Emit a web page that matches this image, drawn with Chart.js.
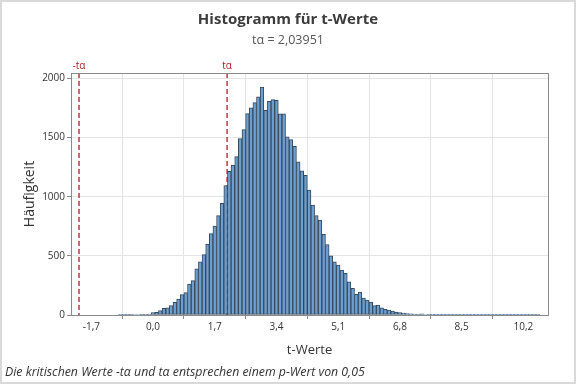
<!DOCTYPE html>
<html><head><meta charset="utf-8">
<script src="https://cdn.jsdelivr.net/npm/chart.js@4.4.1/dist/chart.umd.min.js"></script>
<style>html,body{margin:0;padding:0;background:#fff;}#wrap{width:576px;height:384px;}</style>
</head><body><div id="wrap"><canvas id="c" width="576" height="384"></canvas></div>
<script>
const binMidpoints = [-0.9,-0.8,-0.7,-0.6,-0.5,-0.4,-0.3,-0.2,-0.1,
 0.0,0.1,0.2,0.3,0.4,0.5,0.6,0.7,0.8,0.9,
 1.0,1.1,1.2,1.3,1.4,1.5,1.6,1.7,1.8,1.9,
 2.0,2.1,2.2,2.3,2.4,2.5,2.6,2.7,2.8,2.9,
 3.0,3.1,3.2,3.3,3.4,3.5,3.6,3.7,3.8,3.9,
 4.0,4.1,4.2,4.3,4.4,4.5,4.6,4.7,4.8,4.9,
 5.0,5.1,5.2,5.3,5.4,5.5,5.6,5.7,5.8,5.9,
 6.0,6.1,6.2,6.3,6.4,6.5,6.6,6.7,6.8,6.9,
 7.0,7.1,7.2,7.3,7.4,7.5,7.6,7.7,7.8,7.9,
 8.0,8.1,8.2,8.3,8.4,8.5,8.6,8.7,8.8,8.9,
 9.0,9.1,9.2,9.3,9.4,9.5,9.6,9.7,9.8,9.9,
 10.0,10.1,10.2,10.3,10.4,10.5,10.6];
const counts = [2,2,3,3,4,4,5,6,8,
 20,22,38,56,60,80,108,135,172,190,
 262,290,390,450,510,600,688,751,840,943,
 1094,1215,1266,1339,1491,1567,1702,1750,1795,1843,
 1927,1730,1806,1820,1815,1700,1700,1505,1483,1426,
 1294,1218,1181,1055,928,841,802,681,596,501,
 450,422,380,352,281,225,174,194,143,127,
 110,79,84,60,48,42,33,25,20,16,
 12,9,7,6,10,4,3,3,2,2,
 2,2,1,2,1,1,1,2,1,1,
 1,1,1,1,1,1,1,1,1,1,
 1,1,1,1,1,1,1];
const xTickValues = [-1.7,0.0,1.7,3.4,5.1,6.8,8.5,10.2];
const yTickValues = [0,500,1000,1500,2000];
const criticalValues = [-2.03951, 2.03951];
const criticalLabels = ['-tα','tα'];
const titleText = 'Histogramm für t-Werte';
const subtitleText = 'tα = 2,03951';
const xTitle = 't-Werte';
const yTitle = 'Häufigkeit';
const footnote = 'Die kritischen Werte -tα und tα entsprechen einem p-Wert von 0,05';

const FONT = '"Open Sans", "Noto Sans", sans-serif';
const fmt = v => (Math.round(v*10)/10).toFixed(1).replace('.', ',');
const RED = '#a81e26';

const decor = {
  id: 'decor',
  beforeDraw(chart) {
    const ctx = chart.ctx;
    ctx.save();
    ctx.fillStyle = '#fff';
    ctx.fillRect(0,0,chart.width,chart.height);
    ctx.restore();
  },
  beforeDatasetsDraw(chart) {
    const {ctx, chartArea: a, scales: {x}} = chart;
    ctx.save();
    ctx.strokeStyle = RED;
    ctx.lineWidth = 1.3;
    ctx.setLineDash([5,3]);
    criticalValues.forEach(v => {
      const px = x.getPixelForValue(v);
      ctx.beginPath(); ctx.moveTo(px, a.top); ctx.lineTo(px, a.bottom); ctx.stroke();
    });
    ctx.restore();
  },
  afterDraw(chart) {
    const {ctx, chartArea: a, scales: {x}} = chart;
    ctx.save();
    ctx.strokeStyle = '#8a8a8a'; ctx.lineWidth = 1;
    ctx.strokeRect(Math.round(a.left)+0.5, Math.round(a.top)+0.5, Math.round(a.right-a.left), Math.round(a.bottom-a.top));
    ctx.fillStyle = RED;
    ctx.font = '10px ' + FONT;
    ctx.textAlign = 'center'; ctx.textBaseline = 'middle';
    criticalValues.forEach((v,i) => {
      ctx.fillText(criticalLabels[i], x.getPixelForValue(v), 66);
    });
    ctx.fillStyle = '#3c3c3c';
    ctx.font = 'bold 15px ' + FONT;
    ctx.fillText(titleText, 288, 20);
    ctx.fillStyle = '#555';
    ctx.font = '12.5px ' + FONT;
    ctx.fillText(subtitleText, 288, 40);
    ctx.fillStyle = '#333';
    ctx.font = '13px ' + FONT;
    ctx.fillText(xTitle, (a.left+a.right)/2, 350);
    ctx.save();
    ctx.translate(30, 194);
    ctx.rotate(-Math.PI/2);
    ctx.font = '14px ' + FONT;
    ctx.fillText(yTitle, 0, 0);
    ctx.restore();
    ctx.font = 'italic 12.3px ' + FONT;
    ctx.textAlign = 'left';
    ctx.fillText(footnote, 5, 372);
    ctx.strokeStyle = '#d9d9d9'; ctx.lineWidth = 2;
    ctx.strokeRect(1,1,chart.width-2,chart.height-2);
    ctx.restore();
  }
};

new Chart(document.getElementById('c'), {
  type: 'bar',
  data: {
    datasets: [{
      data: binMidpoints.map((m,i) => ({x: m, y: counts[i]})),
      backgroundColor: '#6c9fd0',
      borderColor: '#34495e',
      borderWidth: 1,
      borderSkipped: false,
      barPercentage: 1,
      categoryPercentage: 1
    }]
  },
  options: {
    responsive: false,
    devicePixelRatio: 1,
    animation: false,
    layout: {padding: {top: 73, left: 0, right: 28, bottom: 0}},
    plugins: {legend: {display: false}, tooltip: {enabled: false}, title: {display: false}},
    scales: {
      x: {
        type: 'linear', min: -2.26, max: 10.88, offset: false,
        afterBuildTicks: s => { s.ticks = xTickValues.map(v => ({value: v})); },
        afterFit: s => { s.height = 69; },
        ticks: {callback: v => fmt(v), autoSkip: false, maxRotation: 0, color: '#333', padding: 2, font: {size: 10, family: FONT}},
        grid: {color: '#e4e4e4', tickColor: '#8a8a8a', tickLength: 4, drawTicks: true},
        border: {display: false}
      },
      y: {
        min: 0, max: 2045,
        afterBuildTicks: s => { s.ticks = yTickValues.map(v => ({value: v})); },
        afterFit: s => { s.width = 71; },
        ticks: {callback: v => String(v), color: '#333', padding: 2, font: {size: 10, family: FONT}},
        grid: {color: '#e4e4e4', tickColor: '#8a8a8a', tickLength: 4, drawTicks: true},
        border: {display: false}
      }
    }
  },
  plugins: [decor]
});
</script>
</body></html>
